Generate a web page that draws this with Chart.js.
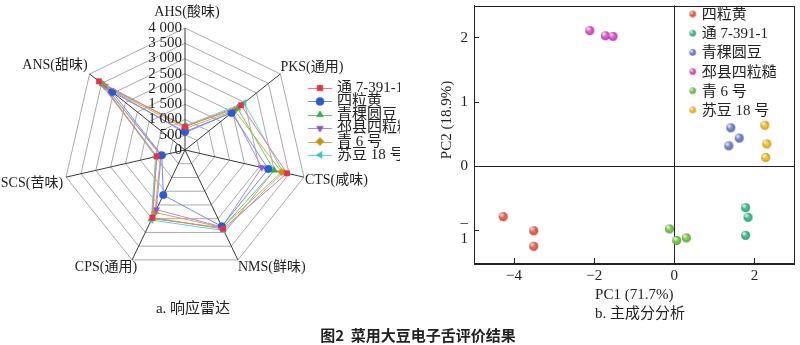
<!DOCTYPE html>
<html>
<head>
<meta charset="utf-8">
<script src="https://cdn.jsdelivr.net/npm/chart.js@4.4.1/dist/chart.umd.min.js"></script>
<style>
  body { margin: 0; background: #fff; }
  #wrap { position: relative; width: 800px; height: 345px; overflow: hidden; background: #fff; }
  #radar { position: absolute; left: 0; top: 0; }
  #pca { position: absolute; left: 400px; top: 0; background: #fff; }
  .cap { position: absolute; font-family: "Liberation Serif", "Noto Sans CJK SC", serif; font-size: 15px; color: #222;
         white-space: nowrap; transform: translate(-50%, -50%); line-height: 1; }
  #fig { font-family: "Noto Sans CJK SC", sans-serif; font-weight: bold; font-size: 15px; }
</style>
</head>
<body>
<div id="wrap">
  <canvas id="radar" width="400" height="345"></canvas>
  <canvas id="pca" width="400" height="345"></canvas>
  <div class="cap" style="left:193px;top:308px">a. 响应雷达</div>
  <div class="cap" style="left:640px;top:313px">b. 主成分分析</div>
  <div class="cap" id="fig" style="left:418px;top:334px">图2&nbsp;&nbsp;菜用大豆电子舌评价结果</div>
</div>
<script>
// sensor axes of the e-tongue, clockwise from the top
const tasteAxes = ['AHS(酸味)', 'PKS(通用)', 'CTS(咸味)', 'NMS(鲜味)', 'CPS(通用)', 'SCS(苦味)', 'ANS(甜味)'];
const radarTicks = [0, 500, 1000, 1500, 2000, 2500, 3000, 3500, 4000];

const radarNames = ['通 7-391-1', '四粒黄', '青稞圆豆', '邳县四粒糙', '青 6 号', '苏豆 18 号'];
const tong7391  = [760, 2350, 3430, 2870, 2460, 950, 3610];
const silihuang = [600, 1950, 2800, 2780, 1640, 780, 3050];
const qingke    = [780, 2200, 3000, 2830, 2500, 950, 3470];
const pixian    = [560, 2000, 2580, 2800, 2170, 800, 3350];
const qing6     = [700, 2080, 3250, 2820, 2270, 820, 3380];
const sudou18   = [790, 2480, 3300, 2930, 2550, 990, 3470];

// PCA scores, three replicates per cultivar
const pcaNames = ['四粒黄', '通 7-391-1', '青稞圆豆', '邳县四粒糙', '青 6 号', '苏豆 18 号'];
const pc1 = [
    [-4.27, -3.51, -3.51],
    [1.78, 1.84, 1.78],
    [1.41, 1.62, 1.36],
    [-2.11, -1.72, -1.53],
    [-0.12, 0.06, 0.30],
    [2.26, 2.31, 2.28]
];
const pc2 = [
    [-0.78, -1.00, -1.24],
    [-0.64, -0.79, -1.07],
    [0.60, 0.44, 0.32],
    [2.11, 2.03, 2.02],
    [-0.97, -1.15, -1.11],
    [0.64, 0.35, 0.14]
];
const pc1Ticks = [-4, -2, 0, 2];
const pc2Ticks = [-1, 0, 1, 2];

const serif = '"Liberation Serif", "Noto Sans CJK SC", serif';
const ink = '#222';

// ---------- radar ----------
const radarMarker = ['#e8304a', '#2a5bd7', '#3aaa4a', '#8a55d8', '#c8920c', '#3cc9b8'];
const radarLine   = ['#f07484', '#6f8fe2', '#6cc27a', '#aa8ae2', '#d6aa40', '#62d6c8'];
const radarStyle  = [['rect', 0], ['circle', 0], ['triangle', 0], ['triangle', 180], ['rectRot', 0], ['triangle', -90]];
const radarValues = [tong7391, silihuang, qingke, pixian, qing6, sudou18];

let radarSets = radarNames.map(function (name, i) {
    return {
        label: name,
        data: radarValues[i],
        fill: false,
        borderColor: radarLine[i],
        borderWidth: 1,
        pointStyle: radarStyle[i][0],
        pointRotation: radarStyle[i][1],
        pointRadius: 3.8,
        pointBackgroundColor: radarMarker[i],
        pointBorderColor: radarMarker[i],
        pointBorderWidth: 0.5
    };
});

// where each axis title sits relative to its outer vertex
const axisLabelPlace = [['center', 2, -16], ['left', 0, -7], ['left', 1, 3], ['left', 0, 7],
                        ['right', 5, 7], ['right', -3, 6], ['right', -2, -9]];

function spaced(v) {
    return String(v).replace(/\B(?=(\d{3})+(?!\d))/g, ' ');
}

const radarText = {
    id: 'radarText',
    afterDraw(chart) {
        let ctx = chart.ctx;
        let s = chart.scales.r;
        ctx.save();
        ctx.fillStyle = ink;
        ctx.textBaseline = 'middle';

        // value ticks, left of the vertical axis
        ctx.font = '15px ' + serif;
        ctx.textAlign = 'right';
        radarTicks.forEach(function (v) {
            ctx.fillText(spaced(v), s.xCenter - 3, s.yCenter - s.getDistanceFromCenterForValue(v));
        });

        // axis names
        ctx.font = '14px ' + serif;
        tasteAxes.forEach(function (t, i) {
            let p = s.getPointPosition(i, s.drawingArea);
            let place = axisLabelPlace[i];
            ctx.textAlign = place[0];
            ctx.fillText(t, p.x + place[1], p.y + place[2]);
        });

        // legend with line + marker samples
        ctx.font = '15px ' + serif;
        ctx.textAlign = 'left';
        chart.data.datasets.forEach(function (ds, i) {
            let y = 88 + i * 13.4;
            ctx.strokeStyle = ds.borderColor;
            ctx.lineWidth = 1;
            ctx.beginPath();
            ctx.moveTo(308, Math.round(y) + 0.5);
            ctx.lineTo(332, Math.round(y) + 0.5);
            ctx.stroke();
            ctx.fillStyle = ds.pointBackgroundColor;
            ctx.strokeStyle = ds.pointBorderColor;
            ctx.lineWidth = 0.5;
            Chart.helpers.drawPoint(ctx, {
                pointStyle: ds.pointStyle, rotation: ds.pointRotation,
                radius: 4, borderWidth: 0.5
            }, 320, y);
            ctx.fillStyle = ink;
            ctx.fillText(ds.label, 337, y);
        });
        ctx.restore();
    }
};

new Chart(document.getElementById('radar'), {
    type: 'radar',
    data: { labels: tasteAxes, datasets: radarSets },
    options: {
        responsive: false,
        animation: false,
        layout: { padding: { left: 63, top: 28, right: 93, bottom: 73 } },
        elements: { line: { tension: 0 } },
        plugins: { legend: { display: false }, tooltip: { enabled: false } },
        scales: {
            r: {
                min: 0,
                max: 4000,
                ticks: { stepSize: 500, display: false },
                pointLabels: { display: false },
                grid: { color: '#aaaaaa', lineWidth: 1 },
                angleLines: { color: '#3a3a3a', lineWidth: 1 }
            }
        }
    },
    plugins: [radarText]
});

// ---------- PCA scatter ----------
const pcaColors = ['#f2604a', '#3dbf92', '#7585d2', '#e055c8', '#78c848', '#f2c028'];

// small shaded ball used as point marker
function makeBall(color, r) {
    let c = document.createElement('canvas');
    let size = Math.ceil(r * 2) + 2;
    c.width = c.height = size;
    let g = c.getContext('2d');
    let m = size / 2;
    g.fillStyle = color;
    g.beginPath();
    g.arc(m, m, r, 0, Math.PI * 2);
    g.fill();
    let edge = g.createRadialGradient(m, m, r * 0.5, m, m, r);
    edge.addColorStop(0, 'rgba(0,0,0,0)');
    edge.addColorStop(1, 'rgba(0,0,0,0.22)');
    g.fillStyle = edge;
    g.fill();
    let shine = g.createRadialGradient(m - r * 0.35, m - r * 0.4, 0, m - r * 0.35, m - r * 0.4, r * 0.7);
    shine.addColorStop(0, 'rgba(255,255,255,0.9)');
    shine.addColorStop(1, 'rgba(255,255,255,0)');
    g.fillStyle = shine;
    g.fill();
    return c;
}

let pcaSets = pcaNames.map(function (name, i) {
    return {
        label: name,
        data: pc1[i].map(function (x, k) { return { x: x, y: pc2[i][k] }; }),
        pointStyle: makeBall(pcaColors[i], 4.5),
        pointRadius: 4.5
    };
});
let legendBalls = pcaColors.map(function (c) { return makeBall(c, 3.2); });

const frameAndLegend = {
    id: 'frameAndLegend',
    afterDraw(chart) {
        let ctx = chart.ctx;
        let a = chart.chartArea;
        ctx.save();
        ctx.strokeStyle = ink;
        ctx.lineWidth = 1;
        ctx.strokeRect(Math.round(a.left) + 0.5, Math.round(a.top) + 0.5,
            Math.round(a.right - a.left) - 1, Math.round(a.bottom - a.top));

        ctx.font = '15px ' + serif;
        ctx.fillStyle = ink;
        ctx.textBaseline = 'middle';

        // vertical axis title, set a bit above the middle of the axis
        ctx.save();
        ctx.translate(47, 120);
        ctx.rotate(-Math.PI / 2);
        ctx.textAlign = 'center';
        ctx.fillText('PC2 (18.9%)', 0, 0);
        ctx.restore();

        ctx.textAlign = 'left';
        chart.data.datasets.forEach(function (ds, i) {
            let y = 14 + i * 19.2;
            let b = legendBalls[i];
            ctx.drawImage(b, 292.7 - b.width / 2, y - b.height / 2);
            ctx.fillText(ds.label, 301.7, y + 1);
        });
        ctx.restore();
    }
};

function zeroLine(c) {
    return c.tick && c.tick.value === 0 ? ink : 'rgba(0,0,0,0)';
}

const tickFont = { family: serif, size: 15, lineHeight: 1.1 };

new Chart(document.getElementById('pca'), {
    type: 'scatter',
    data: { datasets: pcaSets },
    options: {
        responsive: false,
        animation: false,
        layout: { padding: { top: 3, right: 1, left: 0, bottom: 0 } },
        plugins: { legend: { display: false }, tooltip: { enabled: false } },
        scales: {
            x: {
                min: -5,
                max: 3,
                afterBuildTicks: function (sc) { sc.ticks = pc1Ticks.map(function (v) { return { value: v }; }); },
                afterFit: function (sc) { sc.height = 82; sc.paddingLeft = 0; sc.paddingRight = 0; },
                ticks: {
                    font: tickFont, color: ink, padding: 10, maxRotation: 0,
                    callback: function (v) { return v < 0 ? '\u2212' + Math.abs(v) : String(v); }
                },
                grid: { color: zeroLine, tickColor: ink, tickLength: -5 },
                border: { color: ink },
                title: { display: true, text: 'PC1 (71.7%)', color: ink, font: { family: serif, size: 15 }, padding: { top: 0, bottom: 41 } }
            },
            y: {
                min: -1.5,
                max: 2.5,
                afterBuildTicks: function (sc) { sc.ticks = pc2Ticks.map(function (v) { return { value: v }; }); },
                afterFit: function (sc) { sc.width = 74; sc.paddingTop = 0; sc.paddingBottom = 0; },
                ticks: {
                    font: tickFont, color: ink, padding: 11,
                    callback: function (v) { return v < 0 ? ['\u2013', String(Math.abs(v))] : String(v); }
                },
                grid: { color: zeroLine, tickColor: ink, tickLength: -5 },
                border: { color: ink }
            }
        }
    },
    plugins: [frameAndLegend]
});
</script>
</body>
</html>
